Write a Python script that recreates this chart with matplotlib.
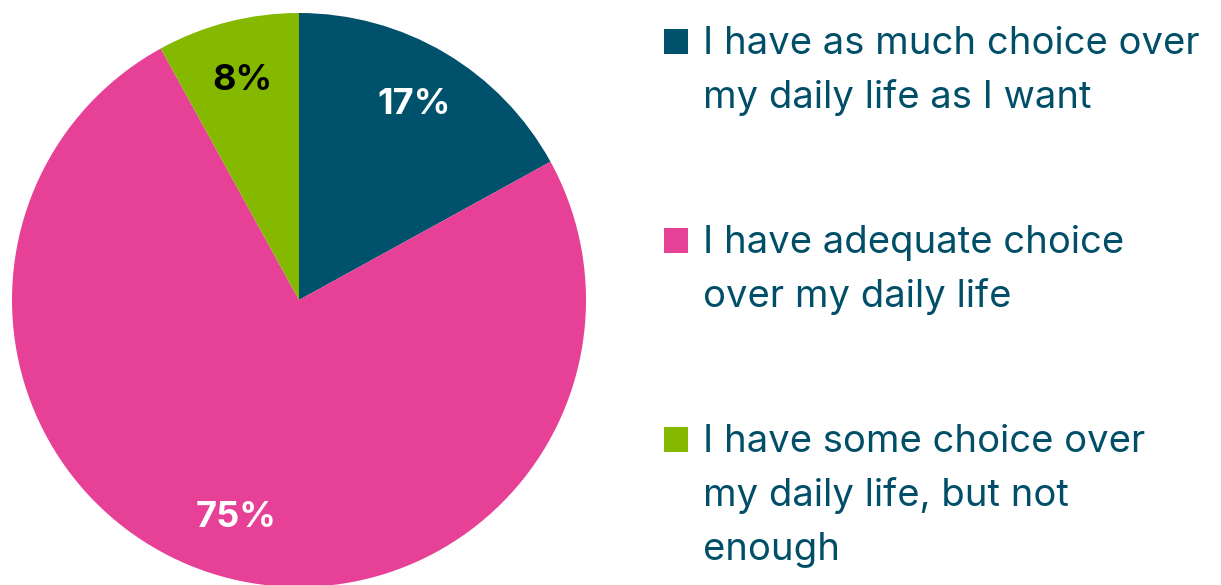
import matplotlib.pyplot as plt
from matplotlib.patches import Rectangle

# data
labels = ["I have as much choice over\nmy daily life as I want",
          "I have adequate choice\nover my daily life",
          "I have some choice over\nmy daily life, but not\nenough"]
values = [17, 75, 8]
colors = ["#00516c", "#e64097", "#84b900"]
pct_colors = ["white", "white", "black"]
text_color = "#004e68"

W, H = 1221, 585
fig = plt.figure(figsize=(W / 100, H / 100), dpi=100)
ax = fig.add_axes([0, 0, 1, 1])

wedges, texts, autotexts = ax.pie(
    values, colors=colors, startangle=90, counterclock=False,
    center=(299, H - 300), radius=287, frame=True,
    autopct="%d%%", pctdistance=0.79,
    textprops=dict(fontsize=26, fontweight="bold", family="Inter"))
for t, c in zip(autotexts, pct_colors):
    t.set_color(c)

ax.set_xlim(0, W)
ax.set_ylim(0, H)
ax.axis("off")

# legend drawn by hand (pixel coordinates, y from top)
first_baselines = [54, 253, 452]
line_step = 54
for lab, col, y0 in zip(labels, colors, first_baselines):
    ax.add_patch(Rectangle((664, H - y0), 24, 25, color=col, lw=0))
    for i, line in enumerate(lab.split("\n")):
        ax.text(703, H - (y0 + i * line_step), line, fontsize=27.5,
                family="Inter", color=text_color, va="baseline", ha="left")

fig.savefig("out.png", dpi=100)
